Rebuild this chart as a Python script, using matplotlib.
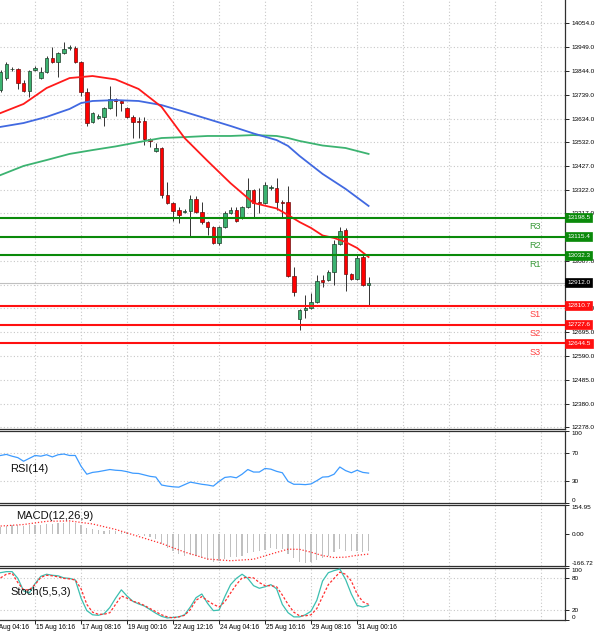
import matplotlib
matplotlib.use('Agg')
import matplotlib.pyplot as plt
import numpy as np
from matplotlib.transforms import blended_transform_factory

plt.rcParams['font.family'] = ['Liberation Sans', 'DejaVu Sans']

# ---------------- data ----------------
opens = [13760,13813,13853,13853,13791,13756,13848,13813,13840,13901,
         13884,13923,13945,13945,13884,13752,13620,13637,13642,13681,
         13721,13712,13681,13642,13624,13624,13545,13492,13505,13298,
         13263,13232,13223,13228,13281,13223,13179,13157,13087,13157,
         13219,13232,13197,13245,13320,13267,13263,13329,13329,13267,
         13267,12942,12752,12792,12801,12827,12924,12924,12959,13082,
         13144,12950,12928,13025,12902]
highs = [13848,13884,13862,13857,13804,13848,13866,13862,13910,13950,
         13928,13972,13958,13954,13888,13769,13664,13655,13686,13778,
         13725,13716,13686,13650,13642,13642,13549,13527,13509,13355,
         13267,13245,13237,13298,13294,13267,13184,13162,13162,13228,
         13245,13245,13250,13373,13325,13329,13355,13342,13373,13276,
         13338,12981,12796,12858,12867,12946,12946,12968,13100,13157,
         13153,12955,13034,13034,12937]
lows = [13752,13804,13844,13765,13752,13730,13844,13809,13835,13879,
        13818,13919,13937,13879,13734,13602,13615,13633,13602,13677,
        13646,13668,13637,13549,13549,13518,13509,13487,13285,13258,
        13184,13175,13219,13118,13219,13170,13122,13082,13078,13153,
        13214,13179,13192,13241,13201,13219,13259,13320,13232,13201,
        12937,12853,12704,12757,12796,12823,12893,12920,12902,13078,
        12875,12924,12924,12898,12814]
closes = [13840,13875,13855,13791,13756,13844,13857,13840,13901,13884,
          13923,13941,13948,13884,13752,13615,13659,13646,13681,13721,
          13712,13703,13642,13620,13620,13545,13536,13505,13298,13263,
          13228,13210,13228,13281,13223,13179,13157,13087,13157,13219,
          13232,13184,13245,13320,13263,13263,13342,13333,13267,13263,
          12942,12871,12792,12801,12827,12920,12915,12959,13082,13140,
          12950,12928,13021,12902,12912]

ma_fast_idx = [0,4,8,12,16,20,24,28,32,36,40,44,48,50,52,54,56,58,60,62,64]
ma_fast = [13659,13699,13769,13813,13822,13807,13765,13686,13549,13448,13350,
           13263,13239,13210,13179,13153,13120,13109,13091,13065,13025]
ma_mid_idx = [0,4,8,12,14,16,20,24,28,32,36,40,44,48,50,52,56,60,64]
ma_mid = [13598,13615,13642,13677,13703,13712,13716,13712,13694,13664,13633,
          13602,13569,13540,13514,13470,13391,13325,13250]
ma_slow_idx = [0,4,8,12,16,20,24,28,32,36,40,44,48,50,52,56,60,64]
ma_slow = [13386,13426,13452,13479,13496,13512,13531,13549,13553,13558,13558,
           13562,13558,13549,13536,13516,13505,13479]

res_levels = [13198.5, 13115.4, 13032.3]
res_names = ['R3', 'R2', 'R1']
sup_levels = [12810.7, 12727.6, 12644.5]
sup_names = ['S1', 'S2', 'S3']
last_price = 12912.0

price_grid = [14054.0, 13949.0, 13844.0, 13739.0, 13634.0, 13532.0, 13427.0,
              13322.0, 13217.0, 13112.0, 13007.0, 12902.0, 12800.0, 12695.0,
              12590.0, 12485.0, 12380.0, 12278.0]
# labels hidden behind the price tags in the reference are left out
price_ticks = [14054.0, 13949.0, 13844.0, 13739.0, 13634.0, 13532.0, 13427.0,
               13322.0, 13217.0, 13007.0, 12800.0, 12695.0,
               12590.0, 12485.0, 12380.0, 12278.0]

rsi = [66,67.5,65,63,58,62,66,65,67,64,67,68,66,66,51,40,42.5,43.5,45,46.5,
       45.5,45,43.5,41.4,41,39,37,36,25,23.5,22.5,22,25.5,29,27.5,26,25,23.5,30,35.5,
       36.5,35,40,46.5,43,43,48,47,44,42,30,26,26,25.5,26.5,31,36,36.5,40,50,
       45,42,45.5,42.5,41.5]

macd_hist = [40,45,48,48,45,47,50,50,55,57,58,62,65,62,52,35,28,22,20,22,
             20,16,10,3,-2,-10,-16,-22,-50,-70,-90,-105,-112,-110,-115,-125,-135,-148,-140,-128,
             -120,-120,-115,-98,-95,-90,-80,-72,-75,-75,-105,-125,-148,-150,-148,-135,-125,-112,-95,-78,
             -85,-90,-85,-95,-88]
macd_sig_idx = [0,4,8,12,16,20,24,28,32,36,40,44,48,50,52,54,56,58,60,62,64]
macd_sig = [44,52,69,71,55,26,-11,-48,-93,-130,-139,-131,-95,-78,-79,-94,-112,
            -122,-120,-110,-104]

stoch_k = [91,93,93,80,56,52,70,84,88,86,85,81,80,77,42,18,10,9,12,24,
           42,58,46,36,31,27,20,13,7,4,5,6,10,25,43,50,32,18,19,45,
           68,80,88,80,66,61,64,68,60,30,14,6,6,10,17,38,75,91,95,98,
           78,50,28,25,28]
stoch_d = [81,88,90,72,58,58,68,82,86,85,83,80,79,77,60,30,15,11,11,14,
           30,46,42,36,33,28,22,16,10,6,4,6,9,20,38,45,37,30,25,35,
           52,68,81,82,81,72,66,66,64,48,30,15,8,8,10,22,45,68,80,92,
           88,75,50,35,30]

date_idx = [-2, 6, 14, 22, 30, 38, 46, 54, 62]
date_labels = ['12 Aug 04:16', '15 Aug 16:16', '17 Aug 08:16', '19 Aug 00:16',
               '22 Aug 12:16', '24 Aug 04:16', '25 Aug 16:16', '29 Aug 08:16',
               '31 Aug 00:16']
vgrid_idx = [6, 14, 22, 30, 38, 46, 54, 62, 70, 78, 86, 94]

# ---------------- figure ----------------
W, H = 600, 637
fig = plt.figure(figsize=(W / 100, H / 100), dpi=100)
fig.patch.set_facecolor('white')


def rect(x0, y0, x1, y1):
    return [x0 / W, 1 - y1 / H, (x1 - x0) / W, (y1 - y0) / H]


ax = fig.add_axes(rect(0, 0, 565, 429))
ax_rsi = fig.add_axes(rect(0, 431, 565, 503))
ax_macd = fig.add_axes(rect(0, 505, 565, 566))
ax_st = fig.add_axes(rect(0, 568, 565, 620))
axes = [ax, ax_rsi, ax_macd, ax_st]

XMIN, XMAX = -0.1, 98.16
GRID = dict(color='#c8c8c8', lw=0.8, linestyle=(0, (1, 2)), zorder=0)
LAB = 4.6
SP = '#303030'

for a in axes:
    a.set_xlim(XMIN, XMAX)
    a.set_facecolor('white')
    a.spines['left'].set_visible(False)
    for s in ('right', 'top', 'bottom'):
        a.spines[s].set_color(SP)
        a.spines[s].set_linewidth(0.9)
    a.yaxis.tick_right()
    a.tick_params(axis='y', labelsize=LAB, length=3, width=0.6, pad=2, colors='black')
    a.set_xticks([])
    for gx in vgrid_idx:
        a.axvline(gx, **GRID)
ax.spines['top'].set_visible(False)

# ---- main price panel ----
o = np.array(opens, float); h = np.array(highs, float)
l = np.array(lows, float); c = np.array(closes, float)
idx = np.arange(len(o))
up = c >= o
bot = np.minimum(o, c)
hgt = np.maximum(np.abs(c - o), 2.0)

ax.set_ylim(12268.0, 14156.6)
ax.set_yticks(price_ticks)
ax.set_yticklabels(['%.1f' % v for v in price_ticks])
for v in price_grid:
    ax.axhline(v, **GRID)

ax.vlines(idx, l, h, color='#333333', lw=0.7, zorder=3)
ax.bar(idx[up], hgt[up], bottom=bot[up], width=0.62, color='#3cb371',
       edgecolor='#1e3d2a', lw=0.5, zorder=4)
ax.bar(idx[~up], hgt[~up], bottom=bot[~up], width=0.62, color='#ff0000',
       edgecolor='#6a1010', lw=0.5, zorder=4)

ax.plot(ma_slow_idx, ma_slow, color='#3cb371', lw=1.3, zorder=5)
ax.plot(ma_mid_idx, ma_mid, color='#4169e1', lw=1.3, zorder=5)
ax.plot(ma_fast_idx, ma_fast, color='#ff1a1a', lw=1.3, zorder=5)

ax.axhline(last_price, color='#c0c0c0', lw=0.8, zorder=2)
for v in res_levels:
    ax.axhline(v, color='#0a8a0a', lw=1.5, zorder=6)
for v in sup_levels:
    ax.axhline(v, color='#ff1010', lw=1.5, zorder=6)

for v, n in zip(res_levels, res_names):
    ax.annotate(n, xy=(93, v), xytext=(0, -3), textcoords='offset points',
                ha='center', va='top', color='#3a9a3a', fontsize=6.6, zorder=7)
for v, n in zip(sup_levels, sup_names):
    ax.annotate(n, xy=(93, v), xytext=(0, -3), textcoords='offset points',
                ha='center', va='top', color='#ff4040', fontsize=6.6, zorder=7)

tr = blended_transform_factory(ax.transAxes, ax.transData)


def tag(v, bg):
    ax.text(1.004, v, '%.1f' % v, transform=tr, ha='left', va='center',
            fontsize=LAB, color='white', clip_on=False, zorder=10,
            bbox=dict(boxstyle='square,pad=0.3', fc=bg, ec=bg, lw=0.5))


for v in res_levels:
    tag(v, '#0a8a0a')
for v in sup_levels:
    tag(v, '#ff1010')
tag(last_price, '#000000')

# ---- RSI ----
ax_rsi.set_ylim(0, 100)
ax_rsi.plot(idx, rsi, color='#3d9bff', lw=0.9, zorder=3)
for v in (70, 30):
    ax_rsi.axhline(v, **GRID)
ax_rsi.set_yticks([0, 30, 70, 100])
ax_rsi.set_yticklabels(['0', '30', '70', '100'])
lbs = ax_rsi.get_yticklabels()
lbs[0].set_va('bottom'); lbs[-1].set_va('top')
ax_rsi.text(10 / 565, 0.47, 'RSI(14)', transform=ax_rsi.transAxes, fontsize=8,
            ha='left', va='center', color='#111111')

# ---- MACD ----
ax_macd.set_ylim(-166.72, 154.95)
ax_macd.bar(idx, macd_hist, width=0.22, color='#c0c0c0', zorder=2)
ax_macd.plot(macd_sig_idx, macd_sig, color='#ff3030', lw=0.9,
             linestyle=(0, (1, 1.5)), zorder=3)
ax_macd.set_yticks([-166.72, 0, 154.95])
ax_macd.set_yticklabels(['-166.72', '0.00', '154.95'])
lbs = ax_macd.get_yticklabels()
lbs[0].set_va('bottom'); lbs[-1].set_va('top')
ax_macd.text(16 / 565, 0.82, 'MACD(12,26,9)', transform=ax_macd.transAxes,
             fontsize=8, ha='left', va='center', color='#111111')

# ---- Stochastic ----
ax_st.set_ylim(0, 100)
for v in (80, 20):
    ax_st.axhline(v, **GRID)
ax_st.plot(idx, stoch_k, color='#3cbfb0', lw=0.9, zorder=3)
ax_st.plot(idx, stoch_d, color='#ff3030', lw=0.9, linestyle=(0, (2, 1.5)), zorder=3)
ax_st.set_yticks([0, 20, 80, 100])
ax_st.set_yticklabels(['0', '20', '80', '100'])
lbs = ax_st.get_yticklabels()
lbs[0].set_va('bottom'); lbs[-1].set_va('top')
ax_st.text(10 / 565, 0.54, 'Stoch(5,5,3)', transform=ax_st.transAxes,
           fontsize=8, ha='left', va='center', color='#111111')

ax_st.set_xticks([d for d in date_idx if d >= XMIN])
ax_st.set_xticklabels([])
ax_st.tick_params(axis='x', length=3, width=0.6, direction='out', colors='black')
trx = blended_transform_factory(ax_st.transData, ax_st.transAxes)
for d, t in zip(date_idx, date_labels):
    ax_st.text(d + 0.15, -0.135, t, transform=trx, ha='left', va='center',
               fontsize=4.8, color='black', clip_on=False)

fig.savefig('out.png', dpi=100, facecolor='white')
